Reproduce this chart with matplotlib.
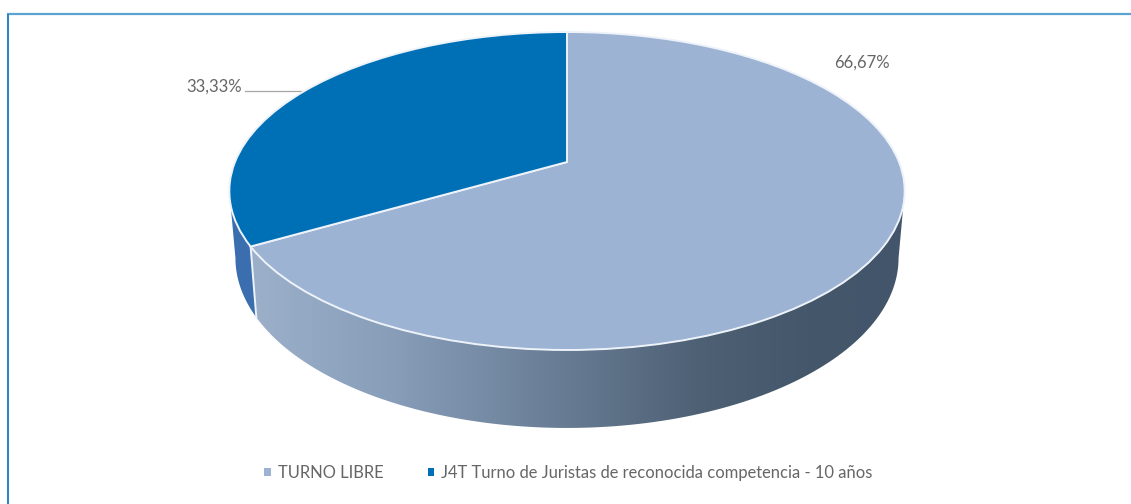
import numpy as np
import matplotlib
matplotlib.use("Agg")
import matplotlib.pyplot as plt
from matplotlib.colors import LinearSegmentedColormap
from matplotlib.patches import Polygon
from matplotlib.transforms import Transform

# --- data ---
categories = ["TURNO LIBRE", "J4T Turno de Juristas de reconocida competencia - 10 años"]
values = [66.67, 33.33]
slice_colors = ["#9cb3d3", "#0070b6"]

W, H = 1131, 504
plt.rcParams["font.family"] = ["Lato", "DejaVu Sans"]
TEXT = "#666666"


class Perspective(Transform):
    """Unit-circle plane tilted away from the viewer, in pixel coordinates."""
    input_dims = output_dims = 2
    is_separable = False
    has_inverse = False

    def __init__(self, x0, y0, mx, my, c):
        super().__init__()
        self.x0, self.y0, self.mx, self.my, self.c = x0, y0, mx, my, c

    def transform_non_affine(self, xy):
        xy = np.asarray(xy, float)
        w = 1 + self.c * xy[:, 1]
        return np.column_stack([self.x0 + self.mx * xy[:, 0] / w,
                                self.y0 - self.my * xy[:, 1] / w])


C = 0.1824
top_plane = Perspective(567, 162, 332, 153.7, C)
bottom_plane = Perspective(567, 227, 326, 164.3, C)

fig = plt.figure(figsize=(W / 100, H / 100), dpi=100, facecolor="white")
ax = fig.add_axes([0, 0, 1, 1])

# top face of the pie
wedges, _ = ax.pie(values, colors=slice_colors, startangle=90, counterclock=False,
                   radius=1, center=(0, 0),
                   wedgeprops=dict(edgecolor="#eef3fa", linewidth=1.4, zorder=5))
ax.set_aspect("auto")
ax.set_xlim(0, W)
ax.set_ylim(H, 0)
ax.axis("off")
for w in wedges:
    w.set_transform(top_plane + ax.transData)

# slice boundary on the rim, derived from the shares
split = np.deg2rad(90 - 360 * values[0] / sum(values))
right_end = -np.arcsin(C)
left_end = np.pi + np.arcsin(C) - 2 * np.pi


def rim(plane, start, stop, n=120):
    t = np.linspace(start, stop, n)
    return plane.transform(np.column_stack([np.cos(t), np.sin(t)]))


# light slice wall, shaded from left to right
wall_light = np.vstack([rim(bottom_plane, split, right_end), rim(top_plane, right_end, split)])
shade = LinearSegmentedColormap.from_list(
    "wall", [(0, "#9cb0ca"), (0.22, "#879db8"), (0.48, "#677b93"),
             (0.68, "#4e6175"), (0.85, "#45576a"), (1, "#43556a")])
x_lo, x_hi = wall_light[:, 0].min(), wall_light[:, 0].max()
y_lo, y_hi = wall_light[:, 1].min(), wall_light[:, 1].max()
im = ax.imshow(np.linspace(0, 1, 256)[None, :], cmap=shade, aspect="auto",
               extent=[x_lo, x_hi, y_hi, y_lo], zorder=2)
clip_light = Polygon(wall_light, closed=True, transform=ax.transData, facecolor="none", edgecolor="none")
ax.add_patch(clip_light)
im.set_clip_path(clip_light)
ax.set_xlim(0, W)
ax.set_ylim(H, 0)

# dark slice wall
wall_dark = np.vstack([rim(bottom_plane, left_end, split), rim(top_plane, split, left_end)])
ax.add_patch(Polygon(wall_dark, closed=True, facecolor="#3b6eae", edgecolor="none", zorder=2))

# separator between the two walls
p_top = rim(top_plane, split, split, 1)[0]
p_bot = rim(bottom_plane, split, split, 1)[0]
ax.plot([p_top[0], p_bot[0]], [p_top[1], p_bot[1]], color="#eef3fa", lw=1.4, zorder=3)

# percentage labels
fmt = [f"{v:.2f}%".replace(".", ",") for v in values]
ax.text(862, 63, fmt[0], color=TEXT, fontsize=12, ha="center", va="center", zorder=6)
ax.text(214, 87, fmt[1], color=TEXT, fontsize=12, ha="center", va="center", zorder=6)
ax.plot([245, 305], [91, 91], color="#a6a6a6", lw=0.9, zorder=4)

# legend
leg = ax.legend(wedges, categories, ncol=2, frameon=False, fontsize=11.9, labelcolor=TEXT,
                loc="center", bbox_to_anchor=(568.5 / W, 1 - 473 / H),
                handlelength=0.38, handleheight=0.36, handletextpad=0.42, columnspacing=2.7)
for h in leg.legend_handles:
    h.set_edgecolor("none")

# chart frame: top and left edges only
frame = "#5ba3d0"
ax.plot([7, W], [14, 14], color=frame, lw=1.6, zorder=7, solid_capstyle="butt")
ax.plot([7.5, 7.5], [14, H], color="#2f86c1", lw=1.5, zorder=7, solid_capstyle="butt")

fig.savefig("out.png", dpi=100, facecolor="white")
